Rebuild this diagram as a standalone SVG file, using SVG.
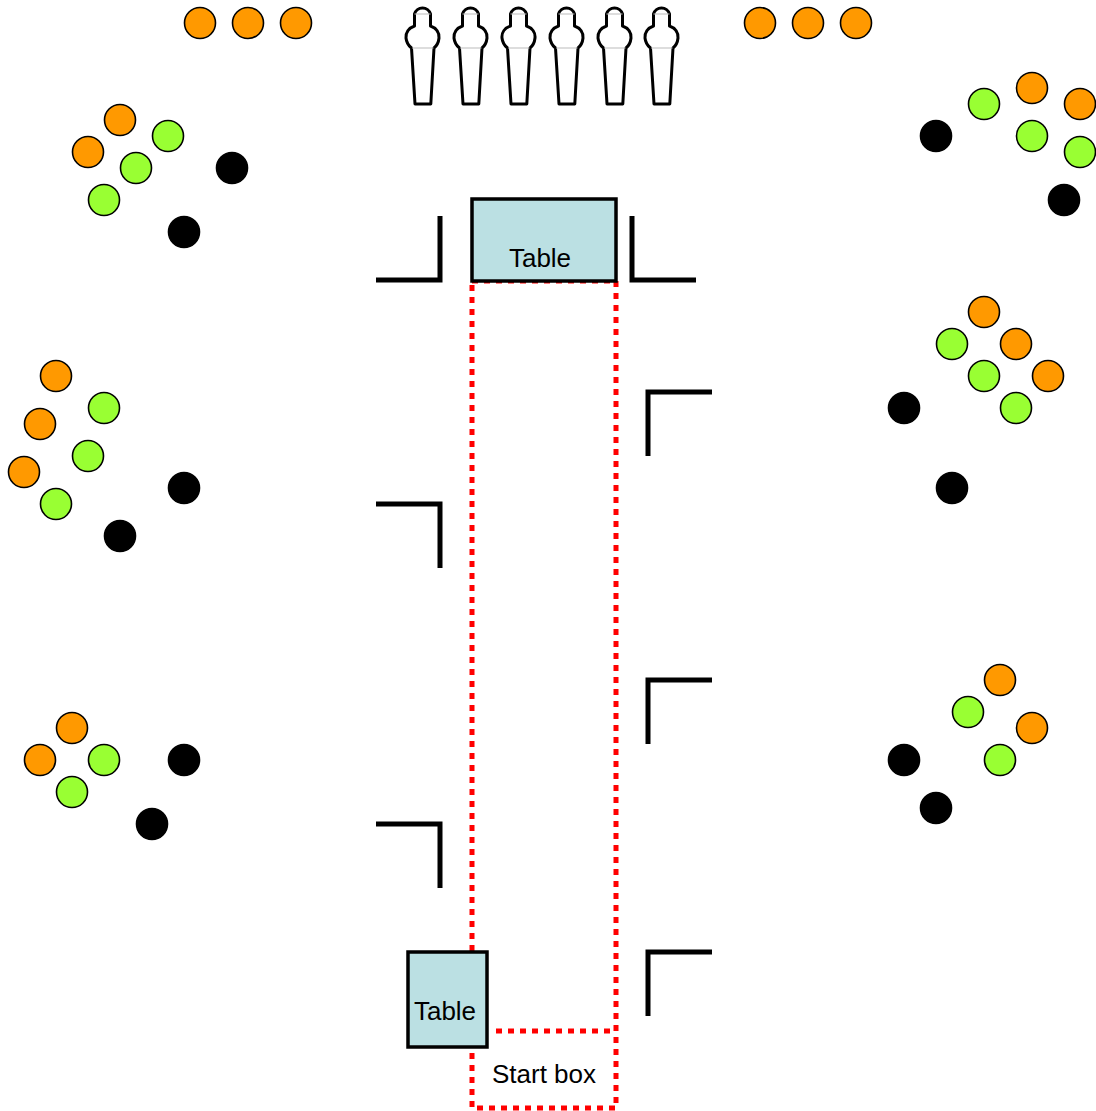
<svg xmlns="http://www.w3.org/2000/svg" width="1096" height="1111" viewBox="0 0 1096 1111">
<defs>
<style>
.o{fill:#FF9900;stroke:#000;stroke-width:1.6}
.g{fill:#99FF33;stroke:#000;stroke-width:1.6}
.k{fill:#000;stroke:#000;stroke-width:1.6}
.br{fill:none;stroke:#000;stroke-width:5}
.tbl{fill:#BBE0E3;stroke:#000;stroke-width:3.5}
.red{fill:none;stroke:#FF0000;stroke-width:5;stroke-dasharray:6 6}
.lbl{font-family:"Liberation Sans",Arial,sans-serif;font-size:26px;fill:#000;text-anchor:middle}
.fig{fill:#fff;stroke:#000;stroke-width:3;stroke-linejoin:round}
.fl{stroke:#bbb;stroke-width:1}
</style>
<g id="figure">
<path class="fig" d="M -8,14 A 8.3 8.3 0 0 1 8,14 L 8,26 C 14,28 17,33 16.5,38 C 16,43 14,46 11.5,48 L 8.3,104 L -7.5,104 L -11,48 C -13.5,46 -16,43 -16.5,38 C -17,33 -14,28 -8,26 Z"/>
<line class="fl" x1="-8" y1="14" x2="8" y2="14"/>
<line class="fl" x1="-10.5" y1="48" x2="11" y2="48"/>
</g>
</defs>
<rect width="1096" height="1111" fill="#fff"/>

<g id="route">
<path class="red" d="M472,281 H616 V1108 H472 V281"/>
<line class="red" x1="496" y1="1031" x2="616" y2="1031"/>
</g>

<g id="connectors">
<path class="br" d="M376,280 H440 V216"/>
<path class="br" d="M632,216 V280 H696"/>
<path class="br" d="M648,456 V392 H712"/>
<path class="br" d="M648,744 V680 H712"/>
<path class="br" d="M648,1016 V952 H712"/>
<path class="br" d="M376,504 H440 V568"/>
<path class="br" d="M376,824 H440 V888"/>
</g>

<g id="table-top">
<rect class="tbl" x="472" y="199" width="144" height="82"/>
<text class="lbl" x="540" y="267">Table</text>
</g>
<g id="table-bottom">
<rect class="tbl" x="408" y="952" width="79" height="95"/>
<text class="lbl" x="445" y="1020">Table</text>
</g>
<g id="start-box">
<text class="lbl" x="544" y="1083">Start box</text>
</g>

<g id="figures">
<use href="#figure" transform="translate(422.5,0)"/>
<use href="#figure" transform="translate(470.5,0)"/>
<use href="#figure" transform="translate(518.5,0)"/>
<use href="#figure" transform="translate(566.5,0)"/>
<use href="#figure" transform="translate(614.5,0)"/>
<use href="#figure" transform="translate(661.5,0)"/>
</g>

<g id="top-row-left">
<circle class="o" cx="200" cy="23" r="15.5"/>
<circle class="o" cx="248" cy="23" r="15.5"/>
<circle class="o" cx="296" cy="23" r="15.5"/>
</g>
<g id="top-row-right">
<circle class="o" cx="760" cy="23" r="15.5"/>
<circle class="o" cx="808" cy="23" r="15.5"/>
<circle class="o" cx="856" cy="23" r="15.5"/>
</g>

<g id="cluster-top-left">
<circle class="o" cx="120" cy="120" r="15.5"/>
<circle class="o" cx="88" cy="152" r="15.5"/>
<circle class="g" cx="168" cy="136" r="15.5"/>
<circle class="g" cx="136" cy="168" r="15.5"/>
<circle class="g" cx="104" cy="200" r="15.5"/>
<circle class="k" cx="232" cy="168" r="15.5"/>
<circle class="k" cx="184" cy="232" r="15.5"/>
</g>

<g id="cluster-top-right">
<circle class="g" cx="984" cy="104" r="15.5"/>
<circle class="o" cx="1032" cy="88" r="15.5"/>
<circle class="o" cx="1080" cy="104" r="15.5"/>
<circle class="g" cx="1032" cy="136" r="15.5"/>
<circle class="g" cx="1080" cy="152" r="15.5"/>
<circle class="k" cx="936" cy="136" r="15.5"/>
<circle class="k" cx="1064" cy="200" r="15.5"/>
</g>

<g id="cluster-mid-left">
<circle class="o" cx="56" cy="376" r="15.5"/>
<circle class="o" cx="40" cy="424" r="15.5"/>
<circle class="o" cx="24" cy="472" r="15.5"/>
<circle class="g" cx="104" cy="408" r="15.5"/>
<circle class="g" cx="88" cy="456" r="15.5"/>
<circle class="g" cx="56" cy="504" r="15.5"/>
<circle class="k" cx="184" cy="488" r="15.5"/>
<circle class="k" cx="120" cy="536" r="15.5"/>
</g>

<g id="cluster-mid-right">
<circle class="o" cx="984" cy="312" r="15.5"/>
<circle class="o" cx="1016" cy="344" r="15.5"/>
<circle class="o" cx="1048" cy="376" r="15.5"/>
<circle class="g" cx="952" cy="344" r="15.5"/>
<circle class="g" cx="984" cy="376" r="15.5"/>
<circle class="g" cx="1016" cy="408" r="15.5"/>
<circle class="k" cx="904" cy="408" r="15.5"/>
<circle class="k" cx="952" cy="488" r="15.5"/>
</g>

<g id="cluster-low-left">
<circle class="o" cx="72" cy="728" r="15.5"/>
<circle class="o" cx="40" cy="760" r="15.5"/>
<circle class="g" cx="104" cy="760" r="15.5"/>
<circle class="g" cx="72" cy="792" r="15.5"/>
<circle class="k" cx="184" cy="760" r="15.5"/>
<circle class="k" cx="152" cy="824" r="15.5"/>
</g>

<g id="cluster-low-right">
<circle class="o" cx="1000" cy="680" r="15.5"/>
<circle class="o" cx="1032" cy="728" r="15.5"/>
<circle class="g" cx="968" cy="712" r="15.5"/>
<circle class="g" cx="1000" cy="760" r="15.5"/>
<circle class="k" cx="904" cy="760" r="15.5"/>
<circle class="k" cx="936" cy="808" r="15.5"/>
</g>
</svg>
